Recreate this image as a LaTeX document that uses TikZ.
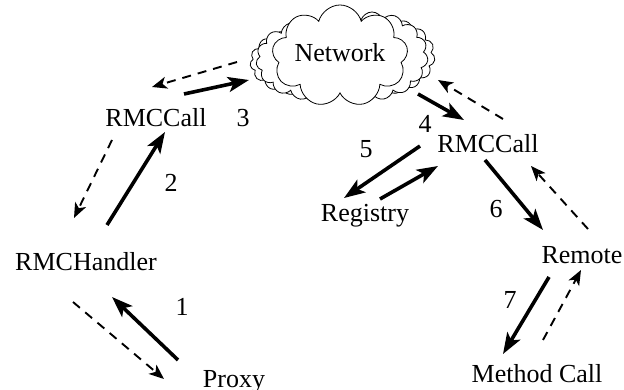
\documentclass[tikz,border=0pt]{standalone}
\usepackage{fontspec}
\setmainfont{Liberation Serif}
\usetikzlibrary{arrows.meta,shapes.symbols}

\begin{document}
\begin{tikzpicture}[x=1pt,y=-1pt,
		every node/.style={font=\fontsize{26}{30}\selectfont,inner sep=0pt,anchor=base},
		call/.style={line width=3.6pt,-{Stealth[length=21pt,width=15pt,inset=5pt]}},
		back/.style={line width=1.9pt,dash pattern=on 9pt off 7pt,-{Stealth[length=15pt,width=12pt,inset=4pt]}},
		wolke/.style={cloud,cloud puffs=9,cloud puff arc=150,draw,fill=white,line width=0.8pt,anchor=center},
		schatten/.style={wolke,cloud puffs=15,cloud puff arc=140}]
		\useasboundingbox (0,0) rectangle (624,390);

		% Wolke
		\node[schatten,minimum width=100,minimum height=66] (wl1) at (300,62) {};
		\node[schatten,minimum width=112,minimum height=80] (wl2) at (312,60) {};
		\node[schatten,minimum width=98,minimum height=76] (wr1) at (386,56) {};
		\node[schatten,minimum width=112,minimum height=88] (wr2) at (372,56) {};
		\node[wolke,minimum width=136,minimum height=102] (netz) at (340,56) {};
		\node (nettext) at (340,62) {Network};

		% Knoten
		\node (callL) at (156,127) {RMCCall};
		\node (callR) at (488,153) {RMCCall};
		\node (handler) at (86,270) {RMCHandler};
		\node (registry) at (365,222) {Registry};
		\node (remote) at (582,263) {Remote};
		\node (proxy) at (234,387) {Proxy};
		\node (method) at (537,382) {Method Call};

		% Nummern
		\node (n1) at (182,315) {1};
		\node (n2) at (171,192) {2};
		\node (n3) at (243,127) {3};
		\node (n4) at (425,133) {4};
		\node (n5) at (366,158) {5};
		\node (n6) at (496,218) {6};
		\node (n7) at (510,308) {7};

		% Endpunkte
		\coordinate (a1) at (178,360);
		\coordinate (b1) at (112,297);
		\coordinate (c1) at (73,302);
		\coordinate (d1) at (164,379);
		\coordinate (a2) at (107,225);
		\coordinate (b2) at (165,132);
		\coordinate (c2) at (112,140);
		\coordinate (d2) at (74,218);
		\coordinate (a3) at (184,94);
		\coordinate (b3) at (249,80);
		\coordinate (c3) at (237,62);
		\coordinate (d3) at (152,87);
		\coordinate (a4) at (418,94);
		\coordinate (b4) at (464,120);
		\coordinate (c4) at (503,119);
		\coordinate (d4) at (438,80);
		\coordinate (a5) at (420,146);
		\coordinate (b5) at (344,198);
		\coordinate (c5) at (380,199);
		\coordinate (d5) at (438,166);
		\coordinate (a6) at (485,160);
		\coordinate (b6) at (543,230);
		\coordinate (c6) at (588,229);
		\coordinate (d6) at (531,166);
		\coordinate (a7) at (549,277);
		\coordinate (b7) at (503,354);
		\coordinate (c7) at (543,340);
		\coordinate (d7) at (581,270);

		% Pfeile
		\draw[call] (a1) -- (b1);
		\draw[back] (c1) -- (d1);
		\draw[call] (a2) -- (b2);
		\draw[back] (c2) -- (d2);
		\draw[call] (a3) -- (b3);
		\draw[back] (c3) -- (d3);
		\draw[call] (a4) -- (b4);
		\draw[back] (c4) -- (d4);
		\draw[call] (a5) -- (b5);
		\draw[call] (c5) -- (d5);
		\draw[call] (a6) -- (b6);
		\draw[back] (c6) -- (d6);
		\draw[call] (a7) -- (b7);
		\draw[back] (c7) -- (d7);
	\end{tikzpicture}
\end{document}
